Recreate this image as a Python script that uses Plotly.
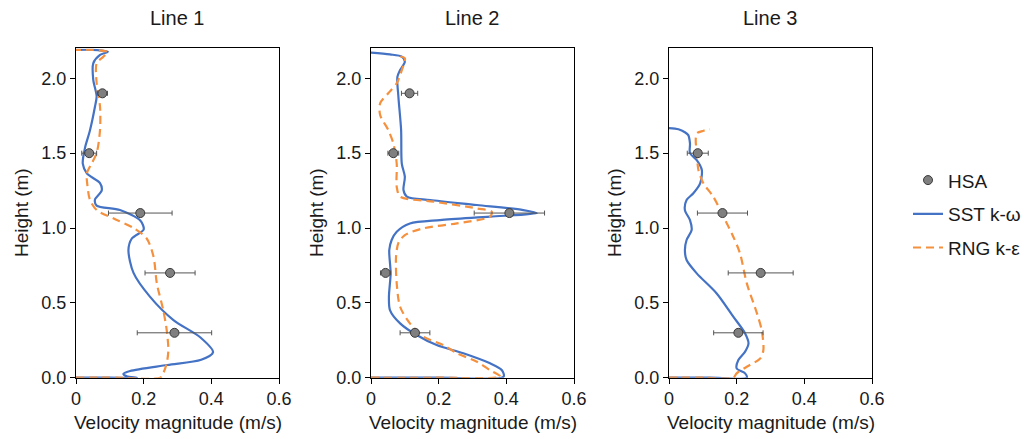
import plotly.graph_objects as go

# ---------------- data ----------------
panel_titles = ["Line 1", "Line 2", "Line 3"]
x_tickvals = [0, 0.2, 0.4, 0.6]
x_ticktext = ["0", "0.2", "0.4", "0.6"]
y_tickvals = [0.0, 0.5, 1.0, 1.5, 2.0]

# HSA measurements
hsa1_y = [1.9, 1.5, 1.1, 0.7, 0.3]
hsa1_x = [0.078, 0.039, 0.190, 0.278, 0.291]
hsa1_err = [0.015, 0.022, 0.094, 0.074, 0.110]

hsa2_y = [1.9, 1.5, 1.1, 0.7, 0.3]
hsa2_x = [0.114, 0.066, 0.409, 0.043, 0.130]
hsa2_err = [0.024, 0.016, 0.104, 0.015, 0.044]

hsa3_y = [1.5, 1.1, 0.7, 0.3]
hsa3_x = [0.085, 0.158, 0.271, 0.205]
hsa3_err = [0.031, 0.074, 0.096, 0.073]

# SST k-omega (Line 1)
sst1_x = [0.0, 0.10, 0.18, 0.15, 0.14, 0.16, 0.27, 0.37, 0.405, 0.367, 0.288, 0.219, 0.17, 0.155,
          0.165, 0.20, 0.19, 0.13, 0.061, 0.056, 0.076, 0.071, 0.032, 0.020, 0.027, 0.041,
          0.056, 0.061, 0.051, 0.051, 0.071, 0.094, 0.05, 0.0]
sst1_y = [0.0, 0.0, 0.0, 0.01, 0.025, 0.045, 0.085, 0.12, 0.17, 0.27, 0.385, 0.54, 0.70, 0.853,
          0.93, 0.99, 1.05, 1.12, 1.15, 1.19, 1.25, 1.30, 1.365, 1.43, 1.54, 1.65,
          1.81, 1.88, 1.99, 2.10, 2.156, 2.178, 2.19, 2.19]

# RNG k-epsilon (Line 1)
rng1_x = [0.0, 0.12, 0.249, 0.258, 0.268, 0.273, 0.268, 0.258, 0.239, 0.229, 0.209, 0.17, 0.11,
          0.061, 0.041, 0.034, 0.032, 0.046, 0.061, 0.071, 0.071, 0.061, 0.061, 0.081, 0.094,
          0.05, 0.0]
rng1_y = [0.0, 0.0, 0.0, 0.03, 0.096, 0.185, 0.32, 0.45, 0.63, 0.81, 0.93, 1.0, 1.065,
          1.12, 1.19, 1.28, 1.365, 1.43, 1.5, 1.655, 1.81, 1.967, 2.10, 2.145, 2.175,
          2.19, 2.19]

# SST k-omega (Line 2)
sst2_x = [0.0, 0.2, 0.392, 0.387, 0.352, 0.273, 0.194, 0.135, 0.086, 0.056, 0.053, 0.058, 0.054,
          0.061, 0.076, 0.115, 0.204, 0.352, 0.49, 0.45, 0.313, 0.175, 0.106, 0.096, 0.10,
          0.091, 0.089, 0.081, 0.078, 0.086, 0.10, 0.091, 0.056, 0.0]
sst2_y = [0.0, 0.0, 0.007, 0.05, 0.096, 0.163, 0.218, 0.285, 0.363, 0.452, 0.54, 0.697, 0.853,
          0.92, 0.975, 1.03, 1.053, 1.076, 1.10, 1.12, 1.154, 1.187, 1.21, 1.254, 1.343,
          1.43, 1.655, 1.877, 2.01, 2.055, 2.11, 2.145, 2.160, 2.172]

# RNG k-epsilon (Line 2)
rng2_x = [0.0, 0.2, 0.382, 0.352, 0.313, 0.254, 0.214, 0.155, 0.115, 0.086, 0.076, 0.074, 0.081,
          0.10, 0.155, 0.254, 0.352, 0.357, 0.313, 0.185, 0.086, 0.076, 0.076, 0.066, 0.051,
          0.027, 0.027, 0.051, 0.076, 0.091, 0.10, 0.076]
rng2_y = [0.0, 0.0, 0.007, 0.05, 0.107, 0.163, 0.218, 0.274, 0.363, 0.474, 0.63, 0.81, 0.90,
          0.953, 0.998, 1.031, 1.076, 1.109, 1.131, 1.176, 1.21, 1.276, 1.43, 1.566, 1.655,
          1.755, 1.833, 1.90, 1.967, 2.055, 2.134, 2.149]

# SST k-omega (Line 3)
sst3_x = [0.0, 0.12, 0.23, 0.225, 0.20, 0.205, 0.225, 0.235, 0.225, 0.19, 0.141, 0.082, 0.052,
          0.047, 0.052, 0.067, 0.062, 0.047, 0.052, 0.072, 0.092, 0.097, 0.082, 0.062,
          0.062, 0.057, 0.047, 0.028, 0.0]
sst3_y = [0.0, 0.0, 0.0, 0.029, 0.062, 0.118, 0.174, 0.23, 0.296, 0.408, 0.563, 0.697, 0.786,
          0.853, 0.92, 0.987, 1.053, 1.12, 1.187, 1.232, 1.298, 1.388, 1.454, 1.50,
          1.566, 1.621, 1.640, 1.660, 1.668]

# RNG k-epsilon (Line 3)
rng3_x = [0.0, 0.10, 0.19, 0.20, 0.23, 0.27, 0.279, 0.274, 0.26, 0.23, 0.21, 0.19, 0.161,
          0.131, 0.102, 0.087, 0.082, 0.079, 0.082, 0.102, 0.121]
rng3_y = [0.0, 0.0, 0.0, 0.029, 0.073, 0.129, 0.185, 0.318, 0.43, 0.63, 0.83, 0.942, 1.076,
          1.209, 1.298, 1.388, 1.50, 1.588, 1.633, 1.650, 1.659]

# ---------------- styling ----------------
BLUE = "#4472C4"
ORANGE = "#F5913E"
FONT = "Liberation Sans, Arial, sans-serif"

panels = [
    dict(hx=hsa1_x, hy=hsa1_y, he=hsa1_err, sx=sst1_x, sy=sst1_y, rx=rng1_x, ry=rng1_y),
    dict(hx=hsa2_x, hy=hsa2_y, he=hsa2_err, sx=sst2_x, sy=sst2_y, rx=rng2_x, ry=rng2_y),
    dict(hx=hsa3_x, hy=hsa3_y, he=hsa3_err, sx=sst3_x, sy=sst3_y, rx=rng3_x, ry=rng3_y),
]

W, H = 1033, 439
x_px = [(76, 279), (371, 574), (669, 872)]
y_px = (48.4, 377.7)  # top (2.2), bottom (0)

fig = go.Figure()
layout = dict(
    width=W, height=H,
    margin=dict(l=0, r=0, t=0, b=0),
    paper_bgcolor="white", plot_bgcolor="white",
    font=dict(family=FONT, size=18, color="#1a1a1a"),
    showlegend=True,
    legend=dict(x=0.879, y=0.512, xanchor="left", yanchor="middle",
                font=dict(size=19, family=FONT, color="#1a1a1a"),
                bgcolor="rgba(0,0,0,0)", tracegroupgap=6, traceorder="grouped",
                itemwidth=30),
)
annotations = []

for i, p in enumerate(panels):
    n = "" if i == 0 else str(i + 1)
    xa, ya = "x" + n, "y" + n
    first = i == 0
    fig.add_trace(go.Scatter(
        x=p["sx"], y=p["sy"], mode="lines", xaxis=xa, yaxis=ya, cliponaxis=False,
        line=dict(color=BLUE, width=2.2, shape="spline", smoothing=0.8),
        name="SST k-ω", legendgroup="b", showlegend=first, legendrank=2))
    fig.add_trace(go.Scatter(
        x=p["rx"], y=p["ry"], mode="lines", xaxis=xa, yaxis=ya, cliponaxis=False,
        line=dict(color=ORANGE, width=2.2, dash="8px,5px", shape="spline", smoothing=0.8),
        name="RNG k-ε", legendgroup="c", showlegend=first, legendrank=3))
    fig.add_trace(go.Scatter(
        x=p["hx"], y=p["hy"], mode="markers", xaxis=xa, yaxis=ya,
        marker=dict(color="#7f7f7f", size=9, line=dict(color="#3a3a3a", width=1)),
        error_x=dict(type="data", array=p["he"], color="#555555", thickness=1, width=2.5),
        name="HSA", legendgroup="a", showlegend=first, legendrank=1))

    x0, x1 = x_px[i]
    axis_common = dict(showline=True, linecolor="black", linewidth=1, mirror=True,
                       ticks="outside", ticklen=5, tickcolor="black", showgrid=False,
                       zeroline=False, tickfont=dict(size=18, family=FONT, color="#1a1a1a"),
                       automargin=False, layer="below traces")
    layout["xaxis" + n] = dict(axis_common, domain=[x0 / W, x1 / W], range=[0, 0.6],
                               tickvals=x_tickvals, ticktext=x_ticktext, anchor=ya)
    layout["yaxis" + n] = dict(axis_common, domain=[1 - y_px[1] / H, 1 - y_px[0] / H],
                               range=[0, 2.2], tickvals=y_tickvals, tickformat=".1f",
                               anchor=xa)
    cx = (x0 + x1) / 2 / W
    annotations.append(dict(text=panel_titles[i], x=cx, y=1 - 18 / H, xref="paper", yref="paper",
                            showarrow=False, font=dict(size=20, family=FONT, color="#1a1a1a"),
                            xanchor="center", yanchor="middle"))
    annotations.append(dict(text="Velocity magnitude (m/s)", x=cx, y=1 - 422 / H,
                            xref="paper", yref="paper", showarrow=False,
                            font=dict(size=19, family=FONT, color="#1a1a1a"),
                            xanchor="center", yanchor="middle"))
    annotations.append(dict(text="Height (m)", x=(x0 - 55) / W, y=1 - 213 / H,
                            xref="paper", yref="paper", showarrow=False, textangle=-90,
                            font=dict(size=19, family=FONT, color="#1a1a1a"),
                            xanchor="center", yanchor="middle"))

layout["annotations"] = annotations
fig.update_layout(**layout)
fig.write_html("out.html")
